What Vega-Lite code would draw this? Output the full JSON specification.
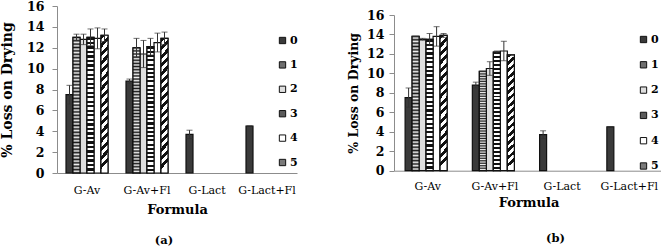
{
  "$schema": "https://vega.github.io/schema/vega-lite/v6.json",
  "padding": {"left": 0, "top": 0, "right": 0, "bottom": 0},
  "bounds": "flush",
  "spacing": 97,
  "datasets": {
    "lod": [
      {"panel": "a", "formula": "G-Av", "time": "0", "value": 7.5, "lo": 6.6, "hi": 8.4},
      {"panel": "a", "formula": "G-Av", "time": "1", "value": 13.0, "lo": 12.7, "hi": 13.3},
      {"panel": "a", "formula": "G-Av", "time": "2", "value": 12.8, "lo": 12.3, "hi": 13.3},
      {"panel": "a", "formula": "G-Av", "time": "3", "value": 13.0, "lo": 12.2, "hi": 13.8},
      {"panel": "a", "formula": "G-Av", "time": "4", "value": 12.9, "lo": 11.9, "hi": 13.9},
      {"panel": "a", "formula": "G-Av", "time": "5", "value": 13.2, "lo": 12.6, "hi": 13.8},
      {"panel": "a", "formula": "G-Av+Fl", "time": "0", "value": 8.8, "lo": 8.6, "hi": 9.0},
      {"panel": "a", "formula": "G-Av+Fl", "time": "1", "value": 12.0, "lo": 11.1, "hi": 12.9},
      {"panel": "a", "formula": "G-Av+Fl", "time": "2", "value": 11.4, "lo": 10.1, "hi": 12.7},
      {"panel": "a", "formula": "G-Av+Fl", "time": "3", "value": 12.1, "lo": 11.3, "hi": 12.9},
      {"panel": "a", "formula": "G-Av+Fl", "time": "4", "value": 12.5, "lo": 11.6, "hi": 13.4},
      {"panel": "a", "formula": "G-Av+Fl", "time": "5", "value": 12.9, "lo": 12.3, "hi": 13.5},
      {"panel": "a", "formula": "G-Lact", "time": "0", "value": 3.7, "lo": 3.3, "hi": 4.1},
      {"panel": "a", "formula": "G-Lact+Fl", "time": "0", "value": 4.5, "lo": 4.5, "hi": 4.5},
      {"panel": "b", "formula": "G-Av", "time": "0", "value": 7.5, "lo": 6.5, "hi": 8.5},
      {"panel": "b", "formula": "G-Av", "time": "1", "value": 13.8, "lo": 13.8, "hi": 13.8},
      {"panel": "b", "formula": "G-Av", "time": "2", "value": 13.5, "lo": 13.4, "hi": 13.6},
      {"panel": "b", "formula": "G-Av", "time": "3", "value": 13.5, "lo": 12.9, "hi": 14.1},
      {"panel": "b", "formula": "G-Av", "time": "4", "value": 13.8, "lo": 12.8, "hi": 14.8},
      {"panel": "b", "formula": "G-Av", "time": "5", "value": 13.9, "lo": 13.7, "hi": 14.1},
      {"panel": "b", "formula": "G-Av+Fl", "time": "0", "value": 8.8, "lo": 8.5, "hi": 9.1},
      {"panel": "b", "formula": "G-Av+Fl", "time": "1", "value": 10.2, "lo": 10.2, "hi": 10.2},
      {"panel": "b", "formula": "G-Av+Fl", "time": "2", "value": 10.5, "lo": 9.8, "hi": 11.2},
      {"panel": "b", "formula": "G-Av+Fl", "time": "3", "value": 12.2, "lo": 12.1, "hi": 12.3},
      {"panel": "b", "formula": "G-Av+Fl", "time": "4", "value": 12.3, "lo": 11.3, "hi": 13.3},
      {"panel": "b", "formula": "G-Av+Fl", "time": "5", "value": 11.9, "lo": 11.9, "hi": 11.9},
      {"panel": "b", "formula": "G-Lact", "time": "0", "value": 3.7, "lo": 3.3, "hi": 4.1},
      {"panel": "b", "formula": "G-Lact+Fl", "time": "0", "value": 4.5, "lo": 4.5, "hi": 4.5}
    ]
  },
  "data": {"name": "lod"},
  "resolve": {"legend": {"color": "independent"}},
  "config": {
    "view": {"stroke": null},
    "font": "DejaVu Serif",
    "title": {"font": "DejaVu Serif"},
    "axis": {
      "labelFont": "DejaVu Serif",
      "titleFont": "DejaVu Serif",
      "labelColor": "#000",
      "titleColor": "#000",
      "domainColor": "#8c8c8c",
      "tickColor": "#8c8c8c",
      "grid": false
    },
    "legend": {
      "labelFont": "DejaVu Serif",
      "labelColor": "#000",
      "labelFontWeight": "bold",
      "labelFontSize": 11,
      "symbolType": "square",
      "symbolSize": 40,
      "symbolStrokeColor": "#111",
      "symbolStrokeWidth": 1,
      "symbolOpacity": 1,
      "labelOffset": 2
    }
  },
  "hconcat": [
    {
      "width": 240,
      "height": 167,
      "title": {"text": "(a)", "orient": "bottom", "fontSize": 11.5, "fontWeight": "bold", "color": "#000", "offset": 19, "dx": -13},
      "transform": [{"filter": "datum.panel === 'a'"}],
      "encoding": {
        "x": {
          "field": "formula", "type": "nominal",
          "sort": ["G-Av", "G-Av+Fl", "G-Lact", "G-Lact+Fl"],
          "scale": {"paddingInner": 0.3, "paddingOuter": 0.15},
          "axis": {"labelAngle": 0, "ticks": false, "labelPadding": 11, "labelFontSize": 11, "title": "Formula", "titleFontSize": 13, "titleFontWeight": "bold", "titlePadding": 8}
        },
        "xOffset": {"field": "time", "type": "nominal", "scale": {"domain": ["0", "1", "2", "3", "4", "5"], "paddingInner": 0, "paddingOuter": 0}},
        "y": {
          "field": "value", "type": "quantitative",
          "scale": {"domain": [0, 16], "nice": false},
          "axis": {"values": [0, 2, 4, 6, 8, 10, 12, 14, 16], "title": "% Loss on Drying", "titleFontSize": 14, "titleFontWeight": "bold", "labelFontSize": 12.5, "labelFontWeight": "bold", "tickSize": 5, "labelPadding": 8, "titlePadding": 12}
        }
      },
      "layer": [
        {
          "mark": {"type": "bar", "stroke": "#111", "strokeWidth": 1.2, "opacity": 1},
          "encoding": {
            "color": {
              "field": "time", "type": "nominal",
              "scale": {"domain": ["0", "1", "2", "3", "4", "5"], "range": ["#3a3a3a", "#6e6e6e", "#dedede", "#5a5a5a", "#ffffff", "#7a7a7a"]},
              "legend": {"title": null, "orient": "none", "legendX": 220, "legendY": 29, "rowPadding": 12.4}
            }
          }
        },
        {
          "transform": [{"filter": "datum.time === '1'"}],
          "mark": {"type": "bar", "stroke": "#111", "strokeWidth": 1.2, "fill": {"gradient": "linear", "x1": 0, "y1": 0, "x2": 0, "y2": 1, "stops": [
            {"offset":0,"color":"#1a1a1a"},{"offset":0.0125,"color":"#f0f0f0"},{"offset":0.025,"color":"#1a1a1a"},{"offset":0.0375,"color":"#f0f0f0"},{"offset":0.05,"color":"#1a1a1a"},{"offset":0.0625,"color":"#f0f0f0"},{"offset":0.075,"color":"#1a1a1a"},{"offset":0.0875,"color":"#f0f0f0"},{"offset":0.1,"color":"#1a1a1a"},{"offset":0.1125,"color":"#f0f0f0"},{"offset":0.125,"color":"#1a1a1a"},{"offset":0.1375,"color":"#f0f0f0"},{"offset":0.15,"color":"#1a1a1a"},{"offset":0.1625,"color":"#f0f0f0"},{"offset":0.175,"color":"#1a1a1a"},{"offset":0.1875,"color":"#f0f0f0"},{"offset":0.2,"color":"#1a1a1a"},{"offset":0.2125,"color":"#f0f0f0"},{"offset":0.225,"color":"#1a1a1a"},{"offset":0.2375,"color":"#f0f0f0"},{"offset":0.25,"color":"#1a1a1a"},{"offset":0.2625,"color":"#f0f0f0"},{"offset":0.275,"color":"#1a1a1a"},{"offset":0.2875,"color":"#f0f0f0"},{"offset":0.3,"color":"#1a1a1a"},{"offset":0.3125,"color":"#f0f0f0"},{"offset":0.325,"color":"#1a1a1a"},{"offset":0.3375,"color":"#f0f0f0"},{"offset":0.35,"color":"#1a1a1a"},{"offset":0.3625,"color":"#f0f0f0"},{"offset":0.375,"color":"#1a1a1a"},{"offset":0.3875,"color":"#f0f0f0"},{"offset":0.4,"color":"#1a1a1a"},{"offset":0.4125,"color":"#f0f0f0"},{"offset":0.425,"color":"#1a1a1a"},{"offset":0.4375,"color":"#f0f0f0"},{"offset":0.45,"color":"#1a1a1a"},{"offset":0.4625,"color":"#f0f0f0"},{"offset":0.475,"color":"#1a1a1a"},{"offset":0.4875,"color":"#f0f0f0"},{"offset":0.5,"color":"#1a1a1a"},{"offset":0.5125,"color":"#f0f0f0"},{"offset":0.525,"color":"#1a1a1a"},{"offset":0.5375,"color":"#f0f0f0"},{"offset":0.55,"color":"#1a1a1a"},{"offset":0.5625,"color":"#f0f0f0"},{"offset":0.575,"color":"#1a1a1a"},{"offset":0.5875,"color":"#f0f0f0"},{"offset":0.6,"color":"#1a1a1a"},{"offset":0.6125,"color":"#f0f0f0"},{"offset":0.625,"color":"#1a1a1a"},{"offset":0.6375,"color":"#f0f0f0"},{"offset":0.65,"color":"#1a1a1a"},{"offset":0.6625,"color":"#f0f0f0"},{"offset":0.675,"color":"#1a1a1a"},{"offset":0.6875,"color":"#f0f0f0"},{"offset":0.7,"color":"#1a1a1a"},{"offset":0.7125,"color":"#f0f0f0"},{"offset":0.725,"color":"#1a1a1a"},{"offset":0.7375,"color":"#f0f0f0"},{"offset":0.75,"color":"#1a1a1a"},{"offset":0.7625,"color":"#f0f0f0"},{"offset":0.775,"color":"#1a1a1a"},{"offset":0.7875,"color":"#f0f0f0"},{"offset":0.8,"color":"#1a1a1a"},{"offset":0.8125,"color":"#f0f0f0"},{"offset":0.825,"color":"#1a1a1a"},{"offset":0.8375,"color":"#f0f0f0"},{"offset":0.85,"color":"#1a1a1a"},{"offset":0.8625,"color":"#f0f0f0"},{"offset":0.875,"color":"#1a1a1a"},{"offset":0.8875,"color":"#f0f0f0"},{"offset":0.9,"color":"#1a1a1a"},{"offset":0.9125,"color":"#f0f0f0"},{"offset":0.925,"color":"#1a1a1a"},{"offset":0.9375,"color":"#f0f0f0"},{"offset":0.95,"color":"#1a1a1a"},{"offset":0.9625,"color":"#f0f0f0"},{"offset":0.975,"color":"#1a1a1a"},{"offset":0.9875,"color":"#f0f0f0"},{"offset":1,"color":"#1a1a1a"}
          ]}}
        },
        {
          "transform": [{"filter": "datum.time === '3'"}],
          "mark": {"type": "bar", "stroke": "#111", "strokeWidth": 1.2, "fill": {"gradient": "linear", "x1": 0, "y1": 0, "x2": 0, "y2": 1, "stops": [
            {"offset":0,"color":"#111"},{"offset":0.0167,"color":"#111"},{"offset":0.0167,"color":"#fff"},{"offset":0.0333,"color":"#fff"},
            {"offset":0.0333,"color":"#111"},{"offset":0.05,"color":"#111"},{"offset":0.05,"color":"#fff"},{"offset":0.0667,"color":"#fff"},
            {"offset":0.0667,"color":"#111"},{"offset":0.0833,"color":"#111"},{"offset":0.0833,"color":"#fff"},{"offset":0.1,"color":"#fff"},
            {"offset":0.1,"color":"#111"},{"offset":0.1167,"color":"#111"},{"offset":0.1167,"color":"#fff"},{"offset":0.1333,"color":"#fff"},
            {"offset":0.1333,"color":"#111"},{"offset":0.15,"color":"#111"},{"offset":0.15,"color":"#fff"},{"offset":0.1667,"color":"#fff"},
            {"offset":0.1667,"color":"#111"},{"offset":0.1833,"color":"#111"},{"offset":0.1833,"color":"#fff"},{"offset":0.2,"color":"#fff"},
            {"offset":0.2,"color":"#111"},{"offset":0.2167,"color":"#111"},{"offset":0.2167,"color":"#fff"},{"offset":0.2333,"color":"#fff"},
            {"offset":0.2333,"color":"#111"},{"offset":0.25,"color":"#111"},{"offset":0.25,"color":"#fff"},{"offset":0.2667,"color":"#fff"},
            {"offset":0.2667,"color":"#111"},{"offset":0.2833,"color":"#111"},{"offset":0.2833,"color":"#fff"},{"offset":0.3,"color":"#fff"},
            {"offset":0.3,"color":"#111"},{"offset":0.3167,"color":"#111"},{"offset":0.3167,"color":"#fff"},{"offset":0.3333,"color":"#fff"},
            {"offset":0.3333,"color":"#111"},{"offset":0.35,"color":"#111"},{"offset":0.35,"color":"#fff"},{"offset":0.3667,"color":"#fff"},
            {"offset":0.3667,"color":"#111"},{"offset":0.3833,"color":"#111"},{"offset":0.3833,"color":"#fff"},{"offset":0.4,"color":"#fff"},
            {"offset":0.4,"color":"#111"},{"offset":0.4167,"color":"#111"},{"offset":0.4167,"color":"#fff"},{"offset":0.4333,"color":"#fff"},
            {"offset":0.4333,"color":"#111"},{"offset":0.45,"color":"#111"},{"offset":0.45,"color":"#fff"},{"offset":0.4667,"color":"#fff"},
            {"offset":0.4667,"color":"#111"},{"offset":0.4833,"color":"#111"},{"offset":0.4833,"color":"#fff"},{"offset":0.5,"color":"#fff"},
            {"offset":0.5,"color":"#111"},{"offset":0.5167,"color":"#111"},{"offset":0.5167,"color":"#fff"},{"offset":0.5333,"color":"#fff"},
            {"offset":0.5333,"color":"#111"},{"offset":0.55,"color":"#111"},{"offset":0.55,"color":"#fff"},{"offset":0.5667,"color":"#fff"},
            {"offset":0.5667,"color":"#111"},{"offset":0.5833,"color":"#111"},{"offset":0.5833,"color":"#fff"},{"offset":0.6,"color":"#fff"},
            {"offset":0.6,"color":"#111"},{"offset":0.6167,"color":"#111"},{"offset":0.6167,"color":"#fff"},{"offset":0.6333,"color":"#fff"},
            {"offset":0.6333,"color":"#111"},{"offset":0.65,"color":"#111"},{"offset":0.65,"color":"#fff"},{"offset":0.6667,"color":"#fff"},
            {"offset":0.6667,"color":"#111"},{"offset":0.6833,"color":"#111"},{"offset":0.6833,"color":"#fff"},{"offset":0.7,"color":"#fff"},
            {"offset":0.7,"color":"#111"},{"offset":0.7167,"color":"#111"},{"offset":0.7167,"color":"#fff"},{"offset":0.7333,"color":"#fff"},
            {"offset":0.7333,"color":"#111"},{"offset":0.75,"color":"#111"},{"offset":0.75,"color":"#fff"},{"offset":0.7667,"color":"#fff"},
            {"offset":0.7667,"color":"#111"},{"offset":0.7833,"color":"#111"},{"offset":0.7833,"color":"#fff"},{"offset":0.8,"color":"#fff"},
            {"offset":0.8,"color":"#111"},{"offset":0.8167,"color":"#111"},{"offset":0.8167,"color":"#fff"},{"offset":0.8333,"color":"#fff"},
            {"offset":0.8333,"color":"#111"},{"offset":0.85,"color":"#111"},{"offset":0.85,"color":"#fff"},{"offset":0.8667,"color":"#fff"},
            {"offset":0.8667,"color":"#111"},{"offset":0.8833,"color":"#111"},{"offset":0.8833,"color":"#fff"},{"offset":0.9,"color":"#fff"},
            {"offset":0.9,"color":"#111"},{"offset":0.9167,"color":"#111"},{"offset":0.9167,"color":"#fff"},{"offset":0.9333,"color":"#fff"},
            {"offset":0.9333,"color":"#111"},{"offset":0.95,"color":"#111"},{"offset":0.95,"color":"#fff"},{"offset":0.9667,"color":"#fff"},
            {"offset":0.9667,"color":"#111"},{"offset":0.9833,"color":"#111"},{"offset":0.9833,"color":"#fff"},{"offset":1,"color":"#fff"}
          ]}}
        },
        {
          "transform": [{"filter": "datum.time === '5'"}],
          "mark": {"type": "bar", "stroke": "#111", "strokeWidth": 1.2, "fill": {"gradient": "linear", "x1": 0, "y1": 0, "x2": 0.055, "y2": 1, "stops": [
            {"offset":0,"color":"#111"},{"offset":0.03125,"color":"#111"},{"offset":0.03125,"color":"#fff"},{"offset":0.0625,"color":"#fff"},
            {"offset":0.0625,"color":"#111"},{"offset":0.09375,"color":"#111"},{"offset":0.09375,"color":"#fff"},{"offset":0.125,"color":"#fff"},
            {"offset":0.125,"color":"#111"},{"offset":0.15625,"color":"#111"},{"offset":0.15625,"color":"#fff"},{"offset":0.1875,"color":"#fff"},
            {"offset":0.1875,"color":"#111"},{"offset":0.21875,"color":"#111"},{"offset":0.21875,"color":"#fff"},{"offset":0.25,"color":"#fff"},
            {"offset":0.25,"color":"#111"},{"offset":0.28125,"color":"#111"},{"offset":0.28125,"color":"#fff"},{"offset":0.3125,"color":"#fff"},
            {"offset":0.3125,"color":"#111"},{"offset":0.34375,"color":"#111"},{"offset":0.34375,"color":"#fff"},{"offset":0.375,"color":"#fff"},
            {"offset":0.375,"color":"#111"},{"offset":0.40625,"color":"#111"},{"offset":0.40625,"color":"#fff"},{"offset":0.4375,"color":"#fff"},
            {"offset":0.4375,"color":"#111"},{"offset":0.46875,"color":"#111"},{"offset":0.46875,"color":"#fff"},{"offset":0.5,"color":"#fff"},
            {"offset":0.5,"color":"#111"},{"offset":0.53125,"color":"#111"},{"offset":0.53125,"color":"#fff"},{"offset":0.5625,"color":"#fff"},
            {"offset":0.5625,"color":"#111"},{"offset":0.59375,"color":"#111"},{"offset":0.59375,"color":"#fff"},{"offset":0.625,"color":"#fff"},
            {"offset":0.625,"color":"#111"},{"offset":0.65625,"color":"#111"},{"offset":0.65625,"color":"#fff"},{"offset":0.6875,"color":"#fff"},
            {"offset":0.6875,"color":"#111"},{"offset":0.71875,"color":"#111"},{"offset":0.71875,"color":"#fff"},{"offset":0.75,"color":"#fff"},
            {"offset":0.75,"color":"#111"},{"offset":0.78125,"color":"#111"},{"offset":0.78125,"color":"#fff"},{"offset":0.8125,"color":"#fff"},
            {"offset":0.8125,"color":"#111"},{"offset":0.84375,"color":"#111"},{"offset":0.84375,"color":"#fff"},{"offset":0.875,"color":"#fff"},
            {"offset":0.875,"color":"#111"},{"offset":0.90625,"color":"#111"},{"offset":0.90625,"color":"#fff"},{"offset":0.9375,"color":"#fff"},
            {"offset":0.9375,"color":"#111"},{"offset":0.96875,"color":"#111"},{"offset":0.96875,"color":"#fff"},{"offset":1,"color":"#fff"}
          ]}}
        },
        {
          "mark": {"type": "rule", "color": "#333", "strokeWidth": 1},
          "encoding": {"y": {"field": "lo", "type": "quantitative"}, "y2": {"field": "hi"}}
        },
        {
          "mark": {"type": "tick", "color": "#333", "thickness": 1, "size": 6},
          "encoding": {"y": {"field": "hi", "type": "quantitative"}}
        },
        {
          "mark": {"type": "tick", "color": "#333", "thickness": 1, "size": 6},
          "encoding": {"y": {"field": "lo", "type": "quantitative"}}
        }
      ]
    },
    {
      "width": 269,
      "height": 167,
      "title": {"text": "(b)", "orient": "bottom", "fontSize": 11.5, "fontWeight": "bold", "color": "#000", "offset": 23, "dx": 27},
      "transform": [{"filter": "datum.panel === 'b'"}],
      "encoding": {
        "x": {
          "field": "formula", "type": "nominal",
          "sort": ["G-Av", "G-Av+Fl", "G-Lact", "G-Lact+Fl"],
          "scale": {"paddingInner": 0.33, "paddingOuter": 0.165},
          "axis": {"labelAngle": 0, "ticks": false, "offset": -2.3, "labelPadding": 10, "labelFontSize": 11, "title": "Formula", "titleFontSize": 13, "titleFontWeight": "bold", "titlePadding": 5}
        },
        "xOffset": {"field": "time", "type": "nominal", "scale": {"domain": ["0", "1", "2", "3", "4", "5"], "paddingInner": 0, "paddingOuter": 0}},
        "y": {
          "field": "value", "type": "quantitative",
          "scale": {"domain": [0, 16], "nice": false, "range": [164.7, 9]},
          "axis": {"values": [0, 2, 4, 6, 8, 10, 12, 14, 16], "title": "% Loss on Drying", "titleFontSize": 12.5, "titleFontWeight": "bold", "labelFontSize": 12.5, "labelFontWeight": "bold", "tickSize": 5, "labelPadding": 5, "titlePadding": 6}
        }
      },
      "layer": [
        {
          "mark": {"type": "bar", "stroke": "#111", "strokeWidth": 1.2, "opacity": 1},
          "encoding": {
            "color": {
              "field": "time", "type": "nominal",
              "legend": {"title": null, "orient": "none", "legendX": 244, "legendY": 28, "rowPadding": 13.3}
            }
          }
        },
        {
          "transform": [{"filter": "datum.time === '1'"}],
          "mark": {"type": "bar", "stroke": "#111", "strokeWidth": 1.2, "fill": {"gradient": "linear", "x1": 0, "y1": 0, "x2": 0, "y2": 1, "stops": [
            {"offset":0,"color":"#1a1a1a"},{"offset":0.0125,"color":"#f0f0f0"},{"offset":0.025,"color":"#1a1a1a"},{"offset":0.0375,"color":"#f0f0f0"},{"offset":0.05,"color":"#1a1a1a"},{"offset":0.0625,"color":"#f0f0f0"},{"offset":0.075,"color":"#1a1a1a"},{"offset":0.0875,"color":"#f0f0f0"},{"offset":0.1,"color":"#1a1a1a"},{"offset":0.1125,"color":"#f0f0f0"},{"offset":0.125,"color":"#1a1a1a"},{"offset":0.1375,"color":"#f0f0f0"},{"offset":0.15,"color":"#1a1a1a"},{"offset":0.1625,"color":"#f0f0f0"},{"offset":0.175,"color":"#1a1a1a"},{"offset":0.1875,"color":"#f0f0f0"},{"offset":0.2,"color":"#1a1a1a"},{"offset":0.2125,"color":"#f0f0f0"},{"offset":0.225,"color":"#1a1a1a"},{"offset":0.2375,"color":"#f0f0f0"},{"offset":0.25,"color":"#1a1a1a"},{"offset":0.2625,"color":"#f0f0f0"},{"offset":0.275,"color":"#1a1a1a"},{"offset":0.2875,"color":"#f0f0f0"},{"offset":0.3,"color":"#1a1a1a"},{"offset":0.3125,"color":"#f0f0f0"},{"offset":0.325,"color":"#1a1a1a"},{"offset":0.3375,"color":"#f0f0f0"},{"offset":0.35,"color":"#1a1a1a"},{"offset":0.3625,"color":"#f0f0f0"},{"offset":0.375,"color":"#1a1a1a"},{"offset":0.3875,"color":"#f0f0f0"},{"offset":0.4,"color":"#1a1a1a"},{"offset":0.4125,"color":"#f0f0f0"},{"offset":0.425,"color":"#1a1a1a"},{"offset":0.4375,"color":"#f0f0f0"},{"offset":0.45,"color":"#1a1a1a"},{"offset":0.4625,"color":"#f0f0f0"},{"offset":0.475,"color":"#1a1a1a"},{"offset":0.4875,"color":"#f0f0f0"},{"offset":0.5,"color":"#1a1a1a"},{"offset":0.5125,"color":"#f0f0f0"},{"offset":0.525,"color":"#1a1a1a"},{"offset":0.5375,"color":"#f0f0f0"},{"offset":0.55,"color":"#1a1a1a"},{"offset":0.5625,"color":"#f0f0f0"},{"offset":0.575,"color":"#1a1a1a"},{"offset":0.5875,"color":"#f0f0f0"},{"offset":0.6,"color":"#1a1a1a"},{"offset":0.6125,"color":"#f0f0f0"},{"offset":0.625,"color":"#1a1a1a"},{"offset":0.6375,"color":"#f0f0f0"},{"offset":0.65,"color":"#1a1a1a"},{"offset":0.6625,"color":"#f0f0f0"},{"offset":0.675,"color":"#1a1a1a"},{"offset":0.6875,"color":"#f0f0f0"},{"offset":0.7,"color":"#1a1a1a"},{"offset":0.7125,"color":"#f0f0f0"},{"offset":0.725,"color":"#1a1a1a"},{"offset":0.7375,"color":"#f0f0f0"},{"offset":0.75,"color":"#1a1a1a"},{"offset":0.7625,"color":"#f0f0f0"},{"offset":0.775,"color":"#1a1a1a"},{"offset":0.7875,"color":"#f0f0f0"},{"offset":0.8,"color":"#1a1a1a"},{"offset":0.8125,"color":"#f0f0f0"},{"offset":0.825,"color":"#1a1a1a"},{"offset":0.8375,"color":"#f0f0f0"},{"offset":0.85,"color":"#1a1a1a"},{"offset":0.8625,"color":"#f0f0f0"},{"offset":0.875,"color":"#1a1a1a"},{"offset":0.8875,"color":"#f0f0f0"},{"offset":0.9,"color":"#1a1a1a"},{"offset":0.9125,"color":"#f0f0f0"},{"offset":0.925,"color":"#1a1a1a"},{"offset":0.9375,"color":"#f0f0f0"},{"offset":0.95,"color":"#1a1a1a"},{"offset":0.9625,"color":"#f0f0f0"},{"offset":0.975,"color":"#1a1a1a"},{"offset":0.9875,"color":"#f0f0f0"},{"offset":1,"color":"#1a1a1a"}
          ]}}
        },
        {
          "transform": [{"filter": "datum.time === '3'"}],
          "mark": {"type": "bar", "stroke": "#111", "strokeWidth": 1.2, "fill": {"gradient": "linear", "x1": 0, "y1": 0, "x2": 0, "y2": 1, "stops": [
            {"offset":0,"color":"#111"},{"offset":0.0167,"color":"#111"},{"offset":0.0167,"color":"#fff"},{"offset":0.0333,"color":"#fff"},
            {"offset":0.0333,"color":"#111"},{"offset":0.05,"color":"#111"},{"offset":0.05,"color":"#fff"},{"offset":0.0667,"color":"#fff"},
            {"offset":0.0667,"color":"#111"},{"offset":0.0833,"color":"#111"},{"offset":0.0833,"color":"#fff"},{"offset":0.1,"color":"#fff"},
            {"offset":0.1,"color":"#111"},{"offset":0.1167,"color":"#111"},{"offset":0.1167,"color":"#fff"},{"offset":0.1333,"color":"#fff"},
            {"offset":0.1333,"color":"#111"},{"offset":0.15,"color":"#111"},{"offset":0.15,"color":"#fff"},{"offset":0.1667,"color":"#fff"},
            {"offset":0.1667,"color":"#111"},{"offset":0.1833,"color":"#111"},{"offset":0.1833,"color":"#fff"},{"offset":0.2,"color":"#fff"},
            {"offset":0.2,"color":"#111"},{"offset":0.2167,"color":"#111"},{"offset":0.2167,"color":"#fff"},{"offset":0.2333,"color":"#fff"},
            {"offset":0.2333,"color":"#111"},{"offset":0.25,"color":"#111"},{"offset":0.25,"color":"#fff"},{"offset":0.2667,"color":"#fff"},
            {"offset":0.2667,"color":"#111"},{"offset":0.2833,"color":"#111"},{"offset":0.2833,"color":"#fff"},{"offset":0.3,"color":"#fff"},
            {"offset":0.3,"color":"#111"},{"offset":0.3167,"color":"#111"},{"offset":0.3167,"color":"#fff"},{"offset":0.3333,"color":"#fff"},
            {"offset":0.3333,"color":"#111"},{"offset":0.35,"color":"#111"},{"offset":0.35,"color":"#fff"},{"offset":0.3667,"color":"#fff"},
            {"offset":0.3667,"color":"#111"},{"offset":0.3833,"color":"#111"},{"offset":0.3833,"color":"#fff"},{"offset":0.4,"color":"#fff"},
            {"offset":0.4,"color":"#111"},{"offset":0.4167,"color":"#111"},{"offset":0.4167,"color":"#fff"},{"offset":0.4333,"color":"#fff"},
            {"offset":0.4333,"color":"#111"},{"offset":0.45,"color":"#111"},{"offset":0.45,"color":"#fff"},{"offset":0.4667,"color":"#fff"},
            {"offset":0.4667,"color":"#111"},{"offset":0.4833,"color":"#111"},{"offset":0.4833,"color":"#fff"},{"offset":0.5,"color":"#fff"},
            {"offset":0.5,"color":"#111"},{"offset":0.5167,"color":"#111"},{"offset":0.5167,"color":"#fff"},{"offset":0.5333,"color":"#fff"},
            {"offset":0.5333,"color":"#111"},{"offset":0.55,"color":"#111"},{"offset":0.55,"color":"#fff"},{"offset":0.5667,"color":"#fff"},
            {"offset":0.5667,"color":"#111"},{"offset":0.5833,"color":"#111"},{"offset":0.5833,"color":"#fff"},{"offset":0.6,"color":"#fff"},
            {"offset":0.6,"color":"#111"},{"offset":0.6167,"color":"#111"},{"offset":0.6167,"color":"#fff"},{"offset":0.6333,"color":"#fff"},
            {"offset":0.6333,"color":"#111"},{"offset":0.65,"color":"#111"},{"offset":0.65,"color":"#fff"},{"offset":0.6667,"color":"#fff"},
            {"offset":0.6667,"color":"#111"},{"offset":0.6833,"color":"#111"},{"offset":0.6833,"color":"#fff"},{"offset":0.7,"color":"#fff"},
            {"offset":0.7,"color":"#111"},{"offset":0.7167,"color":"#111"},{"offset":0.7167,"color":"#fff"},{"offset":0.7333,"color":"#fff"},
            {"offset":0.7333,"color":"#111"},{"offset":0.75,"color":"#111"},{"offset":0.75,"color":"#fff"},{"offset":0.7667,"color":"#fff"},
            {"offset":0.7667,"color":"#111"},{"offset":0.7833,"color":"#111"},{"offset":0.7833,"color":"#fff"},{"offset":0.8,"color":"#fff"},
            {"offset":0.8,"color":"#111"},{"offset":0.8167,"color":"#111"},{"offset":0.8167,"color":"#fff"},{"offset":0.8333,"color":"#fff"},
            {"offset":0.8333,"color":"#111"},{"offset":0.85,"color":"#111"},{"offset":0.85,"color":"#fff"},{"offset":0.8667,"color":"#fff"},
            {"offset":0.8667,"color":"#111"},{"offset":0.8833,"color":"#111"},{"offset":0.8833,"color":"#fff"},{"offset":0.9,"color":"#fff"},
            {"offset":0.9,"color":"#111"},{"offset":0.9167,"color":"#111"},{"offset":0.9167,"color":"#fff"},{"offset":0.9333,"color":"#fff"},
            {"offset":0.9333,"color":"#111"},{"offset":0.95,"color":"#111"},{"offset":0.95,"color":"#fff"},{"offset":0.9667,"color":"#fff"},
            {"offset":0.9667,"color":"#111"},{"offset":0.9833,"color":"#111"},{"offset":0.9833,"color":"#fff"},{"offset":1,"color":"#fff"}
          ]}}
        },
        {
          "transform": [{"filter": "datum.time === '5'"}],
          "mark": {"type": "bar", "stroke": "#111", "strokeWidth": 1.2, "fill": {"gradient": "linear", "x1": 0, "y1": 0, "x2": 0.055, "y2": 1, "stops": [
            {"offset":0,"color":"#111"},{"offset":0.03125,"color":"#111"},{"offset":0.03125,"color":"#fff"},{"offset":0.0625,"color":"#fff"},
            {"offset":0.0625,"color":"#111"},{"offset":0.09375,"color":"#111"},{"offset":0.09375,"color":"#fff"},{"offset":0.125,"color":"#fff"},
            {"offset":0.125,"color":"#111"},{"offset":0.15625,"color":"#111"},{"offset":0.15625,"color":"#fff"},{"offset":0.1875,"color":"#fff"},
            {"offset":0.1875,"color":"#111"},{"offset":0.21875,"color":"#111"},{"offset":0.21875,"color":"#fff"},{"offset":0.25,"color":"#fff"},
            {"offset":0.25,"color":"#111"},{"offset":0.28125,"color":"#111"},{"offset":0.28125,"color":"#fff"},{"offset":0.3125,"color":"#fff"},
            {"offset":0.3125,"color":"#111"},{"offset":0.34375,"color":"#111"},{"offset":0.34375,"color":"#fff"},{"offset":0.375,"color":"#fff"},
            {"offset":0.375,"color":"#111"},{"offset":0.40625,"color":"#111"},{"offset":0.40625,"color":"#fff"},{"offset":0.4375,"color":"#fff"},
            {"offset":0.4375,"color":"#111"},{"offset":0.46875,"color":"#111"},{"offset":0.46875,"color":"#fff"},{"offset":0.5,"color":"#fff"},
            {"offset":0.5,"color":"#111"},{"offset":0.53125,"color":"#111"},{"offset":0.53125,"color":"#fff"},{"offset":0.5625,"color":"#fff"},
            {"offset":0.5625,"color":"#111"},{"offset":0.59375,"color":"#111"},{"offset":0.59375,"color":"#fff"},{"offset":0.625,"color":"#fff"},
            {"offset":0.625,"color":"#111"},{"offset":0.65625,"color":"#111"},{"offset":0.65625,"color":"#fff"},{"offset":0.6875,"color":"#fff"},
            {"offset":0.6875,"color":"#111"},{"offset":0.71875,"color":"#111"},{"offset":0.71875,"color":"#fff"},{"offset":0.75,"color":"#fff"},
            {"offset":0.75,"color":"#111"},{"offset":0.78125,"color":"#111"},{"offset":0.78125,"color":"#fff"},{"offset":0.8125,"color":"#fff"},
            {"offset":0.8125,"color":"#111"},{"offset":0.84375,"color":"#111"},{"offset":0.84375,"color":"#fff"},{"offset":0.875,"color":"#fff"},
            {"offset":0.875,"color":"#111"},{"offset":0.90625,"color":"#111"},{"offset":0.90625,"color":"#fff"},{"offset":0.9375,"color":"#fff"},
            {"offset":0.9375,"color":"#111"},{"offset":0.96875,"color":"#111"},{"offset":0.96875,"color":"#fff"},{"offset":1,"color":"#fff"}
          ]}}
        },
        {
          "mark": {"type": "rule", "color": "#333", "strokeWidth": 1},
          "encoding": {"y": {"field": "lo", "type": "quantitative"}, "y2": {"field": "hi"}}
        },
        {
          "mark": {"type": "tick", "color": "#333", "thickness": 1, "size": 6},
          "encoding": {"y": {"field": "hi", "type": "quantitative"}}
        },
        {
          "mark": {"type": "tick", "color": "#333", "thickness": 1, "size": 6},
          "encoding": {"y": {"field": "lo", "type": "quantitative"}}
        }
      ]
    }
  ]
}
